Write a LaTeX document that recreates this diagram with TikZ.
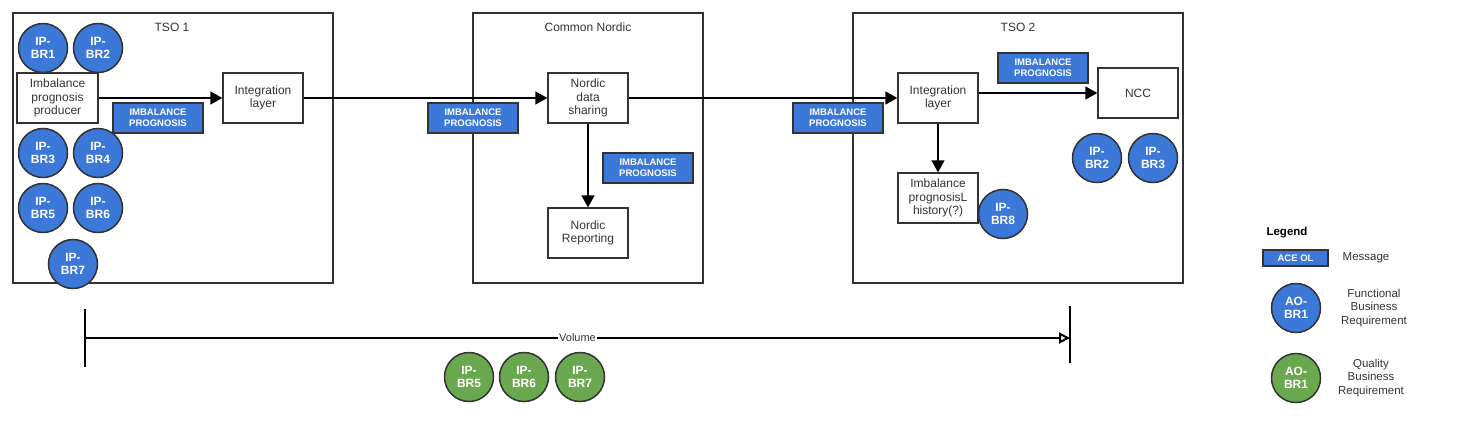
\documentclass[tikz,border=0pt]{standalone}
\usepackage{fontspec}
\setmainfont{Liberation Sans}
\usetikzlibrary{arrows.meta}
\definecolor{msgblue}{HTML}{3C78D8}
\definecolor{qgreen}{HTML}{6AA84F}
\definecolor{edgegray}{HTML}{333333}

\begin{document}
\begin{tikzpicture}[x=1pt, y=-1pt,
    group/.style={draw=edgegray, line width=1.5pt, minimum height=270pt, inner sep=0pt},
    title/.style={text=edgegray, font=\fontsize{12}{14}\selectfont},
    box/.style={draw=edgegray, fill=white, line width=1.3pt, minimum width=80pt, minimum height=50pt,
        inner sep=1pt, align=center, text=edgegray, font=\fontsize{12}{13.5}\selectfont},
    msg/.style={draw=edgegray, fill=msgblue, line width=1.3pt, minimum width=90pt, minimum height=30pt,
        inner sep=0pt, align=center, text=white, font=\bfseries\fontsize{9.5}{11}\selectfont},
    fbr/.style={circle, draw=edgegray, fill=msgblue, line width=1.5pt, minimum size=49pt, inner sep=0pt,
        align=center, text=white, font=\bfseries\fontsize{12}{13.5}\selectfont},
    qbr/.style={fbr, fill=qgreen},
    flow/.style={-{Triangle[length=12pt,width=13pt]}, line width=1.5pt},
    legtext/.style={text=edgegray, align=center, font=\fontsize{11.5}{13.5}\selectfont}]

    \useasboundingbox (0,0) rectangle (1463,423);

    \node[group, minimum width=320pt] (tso1) at (173,148) {};
    \node[group, minimum width=230pt] (nordic) at (588,148) {};
    \node[group, minimum width=330pt] (tso2) at (1018,148) {};
    \node[title] (tso1title) at (172,27) {TSO 1};
    \node[title] (nordictitle) at (588,27) {Common Nordic};
    \node[title] (tso2title) at (1018,27) {TSO 2};

    \node[box, minimum width=81pt] (producer) at (57.5,98) {Imbalance\\prognosis\\producer};
    \node[box] (integ1) at (263,98) {Integration\\layer};
    \node[box] (share) at (588,98) {Nordic\\data\\sharing};
    \node[box] (report) at (588,233) {Nordic\\Reporting};
    \node[box] (integ2) at (938,98) {Integration\\layer};
    \node[box] (ncc) at (1138,93) {NCC};
    \node[box] (history) at (938,198) {Imbalance\\prognosisL\\history(?)};

    \draw[flow] (producer) -- (integ1);
    \draw[flow] (integ1) -- (share);
    \draw[flow] (share) -- (report);
    \draw[flow] (share) -- (integ2);
    \draw[flow] (integ2.east |- ncc) -- (ncc);
    \draw[flow] (integ2) -- (history);

    \node[fbr] (tso1br1) at (43,48) {IP-\\BR1};
    \node[fbr] (tso1br2) at (98,48) {IP-\\BR2};
    \node[fbr] (tso1br3) at (43,153) {IP-\\BR3};
    \node[fbr] (tso1br4) at (98,153) {IP-\\BR4};
    \node[fbr] (tso1br5) at (43,208) {IP-\\BR5};
    \node[fbr] (tso1br6) at (98,208) {IP-\\BR6};
    \node[fbr] (tso1br7) at (73,264) {IP-\\BR7};
    \node[fbr] (tso2br8) at (1003,214) {IP-\\BR8};
    \node[fbr] (tso2br2) at (1097,158) {IP-\\BR2};
    \node[fbr] (tso2br3) at (1153,158) {IP-\\BR3};

    \node[msg] (msg1) at (158,118) {IMBALANCE\\PROGNOSIS};
    \node[msg] (msg2) at (473,118) {IMBALANCE\\PROGNOSIS};
    \node[msg] (msg3) at (648,168) {IMBALANCE\\PROGNOSIS};
    \node[msg] (msg4) at (838,118) {IMBALANCE\\PROGNOSIS};
    \node[msg] (msg5) at (1043,68) {IMBALANCE\\PROGNOSIS};

    \coordinate (volstart) at (85,338);
    \coordinate (volend) at (1070,338);
    \draw[line width=2pt] ([yshift=29pt]volstart) -- ([yshift=-29pt]volstart);
    \draw[line width=2pt] ([yshift=32pt]volend) -- ([yshift=-25pt]volend);
    \draw[line width=2pt, -{Triangle[open,length=11pt,width=11pt]}] (volstart) --
        node[fill=white, inner sep=1pt, text=edgegray, font=\fontsize{11}{13}\selectfont] (voltext) {Volume} (volend);

    \node[qbr] (volbr5) at (469,377) {IP-\\BR5};
    \node[qbr] (volbr6) at (524,377) {IP-\\BR6};
    \node[qbr] (volbr7) at (580,377) {IP-\\BR7};

    \node[font=\bfseries\fontsize{11.5}{13}\selectfont] (legend) at (1287,233) {Legend};
    \node[msg, minimum width=65pt, minimum height=16pt, font=\bfseries\fontsize{9.5}{10}\selectfont] (legmsg) at (1295.5,258) {ACE OL};
    \node[legtext] (legmsgtext) at (1366,258) {Message};
    \node[fbr] (legfbr) at (1296,308) {AO-\\BR1};
    \node[legtext] (legfbrtext) at (1374,308) {Functional\\Business\\Requirement};
    \node[qbr] (legqbr) at (1296,378) {AO-\\BR1};
    \node[legtext] (legqbrtext) at (1371,378) {Quality\\Business\\Requirement};

\end{tikzpicture}
\end{document}
